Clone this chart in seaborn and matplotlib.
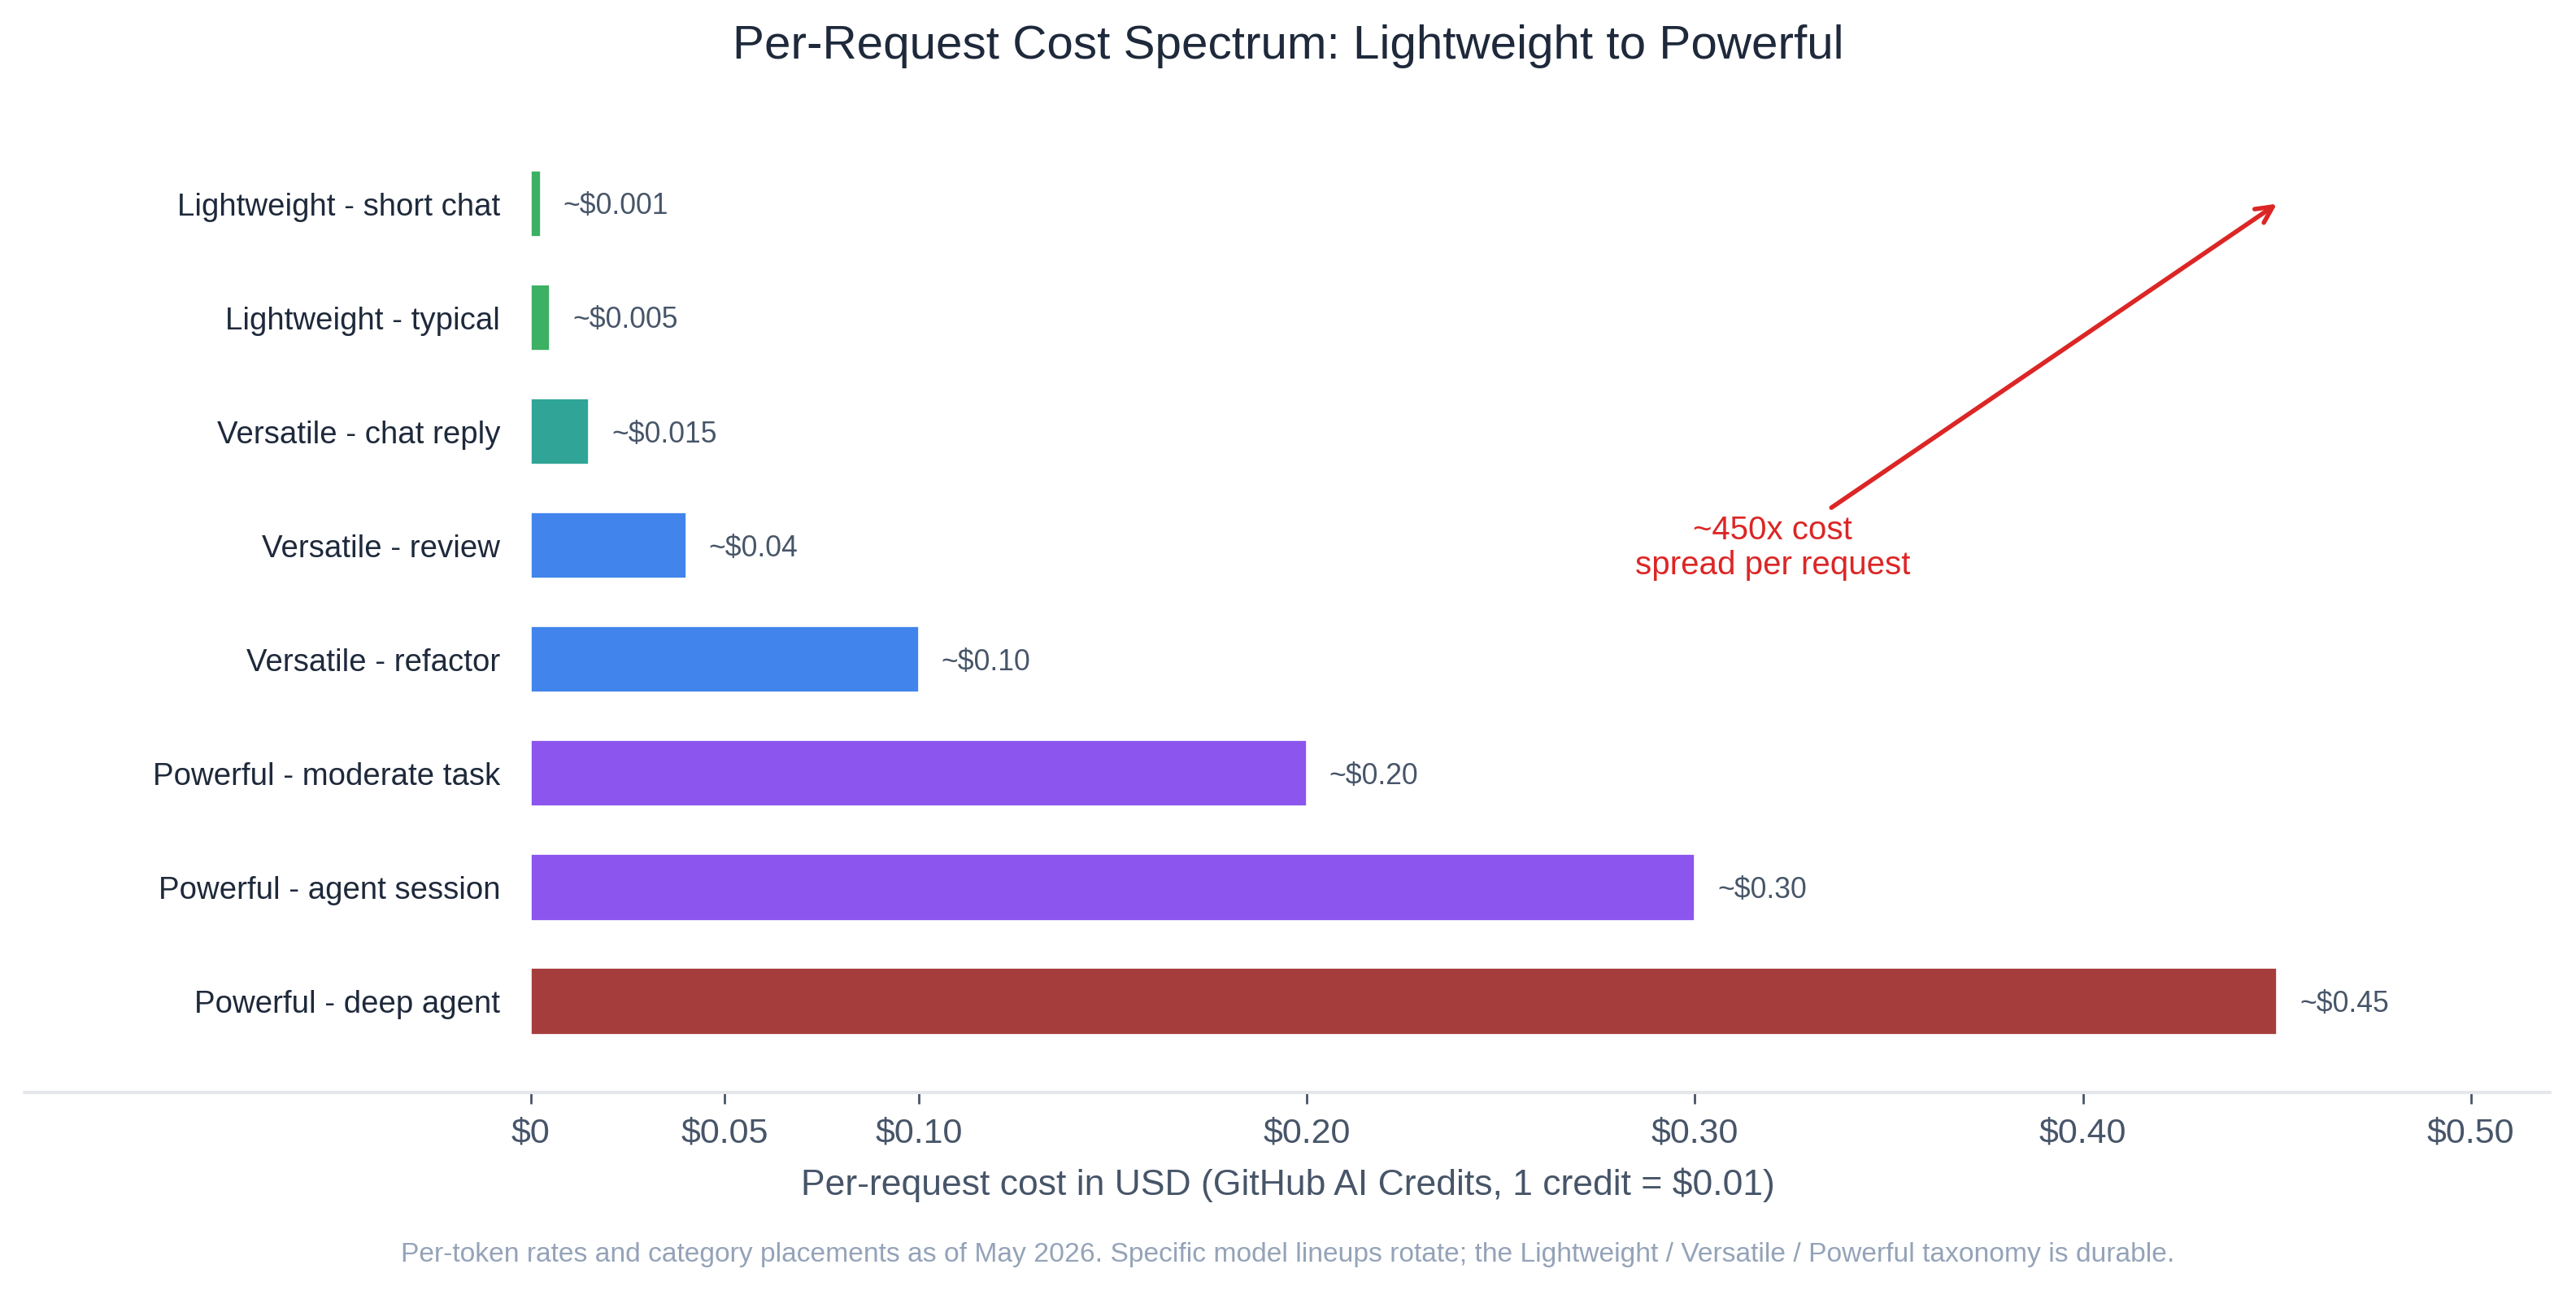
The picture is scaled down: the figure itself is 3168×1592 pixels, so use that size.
import matplotlib
matplotlib.use('Agg')
import matplotlib.pyplot as plt
import seaborn as sns
from matplotlib.lines import Line2D

# Chart data
labels = [
    'Lightweight - short chat',
    'Lightweight - typical',
    'Versatile - chat reply',
    'Versatile - review',
    'Versatile - refactor',
    'Powerful - moderate task',
    'Powerful - agent session',
    'Powerful - deep agent',
]
costs = [0.0025, 0.005, 0.015, 0.04, 0.10, 0.20, 0.30, 0.45]
cost_labels = ['~$0.001', '~$0.005', '~$0.015', '~$0.04', '~$0.10', '~$0.20', '~$0.30', '~$0.45']
bar_colors = ['#3cb063', '#3cb063', '#30a597', '#4184ec', '#4184ec', '#8b55ee', '#8b55ee', '#a63d3d']
tick_values = [0, 0.05, 0.10, 0.20, 0.30, 0.40, 0.50]
tick_labels = ['$0', '$0.05', '$0.10', '$0.20', '$0.30', '$0.40', '$0.50']

title = 'Per-Request Cost Spectrum: Lightweight to Powerful'
xlabel = 'Per-request cost in USD (GitHub AI Credits, 1 credit = $0.01)'
footer = ('Per-token rates and category placements as of May 2026. Specific model lineups rotate; '
          'the Lightweight / Versatile / Powerful taxonomy is durable.')
note = '~450x cost\nspread per request'

sns.set_theme(style='white')
plt.rcParams['font.family'] = ['Liberation Sans', 'DejaVu Sans']

fig = plt.figure(figsize=(15.84, 7.96), dpi=200)
ax = fig.add_axes([0.206, 0.1564, 0.7838, 0.7302])

sns.barplot(x=costs, y=labels, hue=labels, palette=bar_colors, orient='h',
            width=0.58, saturation=1, legend=False, edgecolor='white',
            linewidth=0.6, ax=ax)

ax.set_xlim(0, 0.5203)
ax.set_ylim(7.80, -0.5)
for s in ax.spines.values():
    s.set_visible(False)

# baseline spanning the full width, like the reference
fig.add_artist(Line2D([0.0096, 0.9898], [0.1564, 0.1564], transform=fig.transFigure,
                      color='#e5e7eb', lw=1.5))

ax.set_xticks(tick_values)
ax.set_xticklabels(tick_labels)
ax.tick_params(axis='x', bottom=True, length=5, width=1, color='#475569', pad=6,
               labelsize=15.5, labelcolor='#475569')
ax.tick_params(axis='y', left=False, length=0, pad=13.5, labelsize=13.8, labelcolor='#1e293b')
ax.set_ylabel('')

ax.set_xlabel(xlabel, fontsize=16, color='#475569')
ax.xaxis.set_label_coords(0.3751, -0.098)
ax.xaxis.label.set_va('center')

# value labels
for i, (v, t) in enumerate(zip(costs, cost_labels)):
    ax.annotate(t, xy=(v, i), xytext=(10, -1.2), textcoords='offset points',
                ha='left', va='center', fontsize=12.8, color='#475569')

# spread annotation
ax.annotate(note, xy=(costs[-1], 0), xytext=(0.32, 3.02), ha='center', va='center',
            fontsize=14.5, color='#dc2626', linespacing=1.15,
            arrowprops=dict(arrowstyle='->,head_length=0.5,head_width=0.25',
                            color='#dc2626', lw=2, shrinkA=2, shrinkB=0))

fig.text(0.5, 0.9645, title, ha='center', va='center', fontsize=21, color='#1e293b')
fig.text(0.5, 0.0308, footer, ha='center', va='center', fontsize=12.1, color='#94a3b8')

fig.savefig('out.png', dpi=200)
